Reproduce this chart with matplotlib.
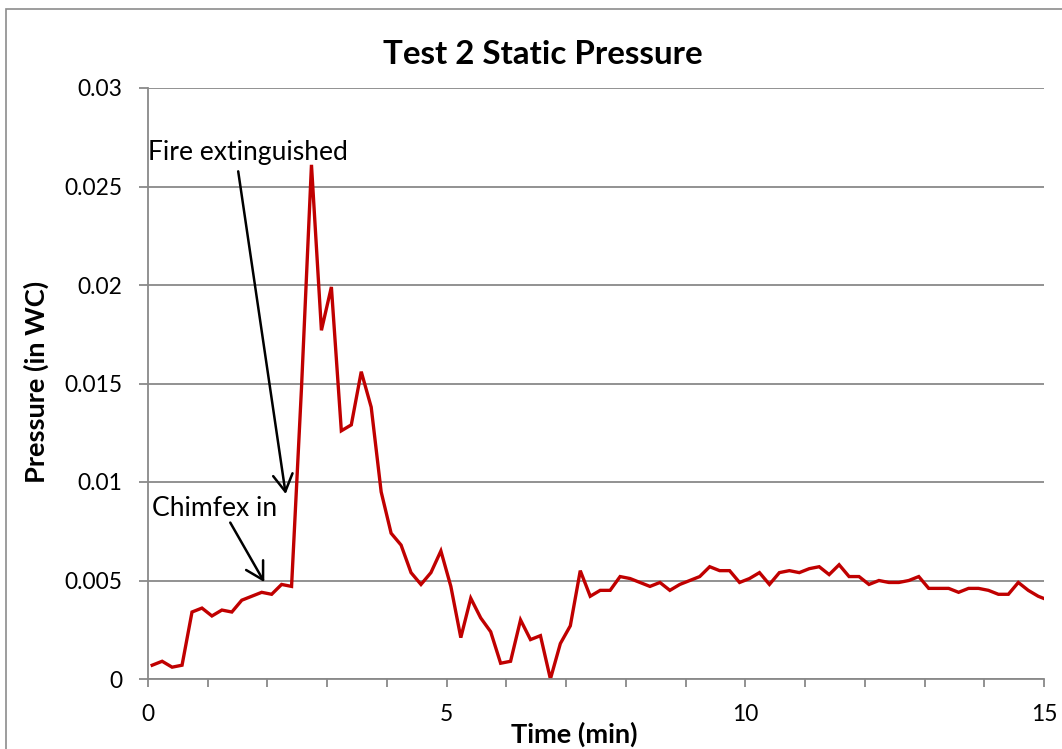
import numpy as np
import matplotlib
matplotlib.use('Agg')
import matplotlib.pyplot as plt
from matplotlib.patches import Rectangle
from matplotlib.ticker import MultipleLocator

plt.rcParams['font.family'] = ['Lato', 'DejaVu Sans']

# samples every 10 s, first one a few seconds after start
time_min = 0.07 + np.arange(91) / 6.0
pressure = [0.0007, 0.0009, 0.0006, 0.0007, 0.0034, 0.0036, 0.0032, 0.0035, 0.0034, 0.0040,
            0.0042, 0.0044, 0.0043, 0.0048, 0.0047, 0.0148, 0.0261, 0.0177, 0.0199, 0.0126,
            0.0129, 0.0156, 0.0138, 0.0095, 0.0074, 0.0068, 0.0054, 0.0048, 0.0054, 0.0065,
            0.0047, 0.0021, 0.0041, 0.0031, 0.0024, 0.0008, 0.0009, 0.0030, 0.0020, 0.0022,
            0.0000, 0.0018, 0.0027, 0.0055, 0.0042, 0.0045, 0.0045, 0.0052, 0.0051, 0.0049,
            0.0047, 0.0049, 0.0045, 0.0048, 0.0050, 0.0052, 0.0057, 0.0055, 0.0055, 0.0049,
            0.0051, 0.0054, 0.0048, 0.0054, 0.0055, 0.0054, 0.0056, 0.0057, 0.0053, 0.0058,
            0.0052, 0.0052, 0.0048, 0.0050, 0.0049, 0.0049, 0.0050, 0.0052, 0.0046, 0.0046,
            0.0046, 0.0044, 0.0046, 0.0046, 0.0045, 0.0043, 0.0043, 0.0049, 0.0045, 0.0042,
            0.0040]

xticks = [0, 5, 10, 15]
yticks = [0, 0.005, 0.01, 0.015, 0.02, 0.025, 0.03]
ytick_labels = ['0', '0.005', '0.01', '0.015', '0.02', '0.025', '0.03']

fig = plt.figure(figsize=(10.62, 7.49), dpi=100)
ax = fig.add_axes([148/1062, 1-679/749, (1044-148)/1062, (679-88)/749])

# chart area border
fig.patches.append(Rectangle((6/1062, -0.05), 1.1, 1-9/749+0.05, transform=fig.transFigure,
                             fill=False, edgecolor='#8c8c8c', linewidth=1.2))

ax.plot(time_min, pressure, color='#c00000', linewidth=2.4, solid_joinstyle='miter')

ax.set_xlim(0, 15)
ax.set_ylim(0, 0.03)
ax.set_xticks(xticks)
ax.set_xticklabels([str(t) for t in xticks])
ax.xaxis.set_minor_locator(MultipleLocator(1))
ax.set_yticks(yticks)
ax.set_yticklabels(ytick_labels)
ax.grid(axis='y', color='#898989', linewidth=1.3)
ax.set_axisbelow(True)
for s in ['top', 'right']:
    ax.spines[s].set_visible(False)
for s in ['left', 'bottom']:
    ax.spines[s].set_color('#898989')
    ax.spines[s].set_linewidth(1.3)
ax.tick_params(axis='both', which='both', color='#898989', width=1.3, labelsize=16.4, direction='out')
ax.tick_params(axis='x', which='both', length=6, pad=12)
ax.tick_params(axis='y', length=6.5, pad=12)

fig.text(542.5/1062, 1-63.5/749, 'Test 2 Static Pressure', fontsize=23.9, fontweight='bold',
         ha='center', va='baseline')
ax.set_xlabel('Time (min)', fontsize=19.6, fontweight='bold')
ax.xaxis.set_label_coords((574-148)/896, -(722-679)/591)
ax.set_ylabel('Pressure (in WC)', fontsize=19.6, fontweight='bold')
ax.yaxis.set_label_coords((49-148)/896, (679-382)/591)

arrow = dict(arrowstyle='->,head_length=0.4,head_width=0.23', color='black', linewidth=1.8,
             mutation_scale=30.6, shrinkA=0, shrinkB=0)
ax.annotate('', xy=(2.305, 0.00939), xytext=(1.51, 0.02577), arrowprops=arrow)
ax.text(0.005, 0.02635, 'Fire extinguished', fontsize=19.1, ha='left', va='baseline')
ax.annotate('', xy=(1.947, 0.00492), xytext=(1.377, 0.00794), arrowprops=arrow)
ax.text(0.067, 0.00827, 'Chimfex in', fontsize=19.1, ha='left', va='baseline')

fig.savefig('out.png', dpi=100)
